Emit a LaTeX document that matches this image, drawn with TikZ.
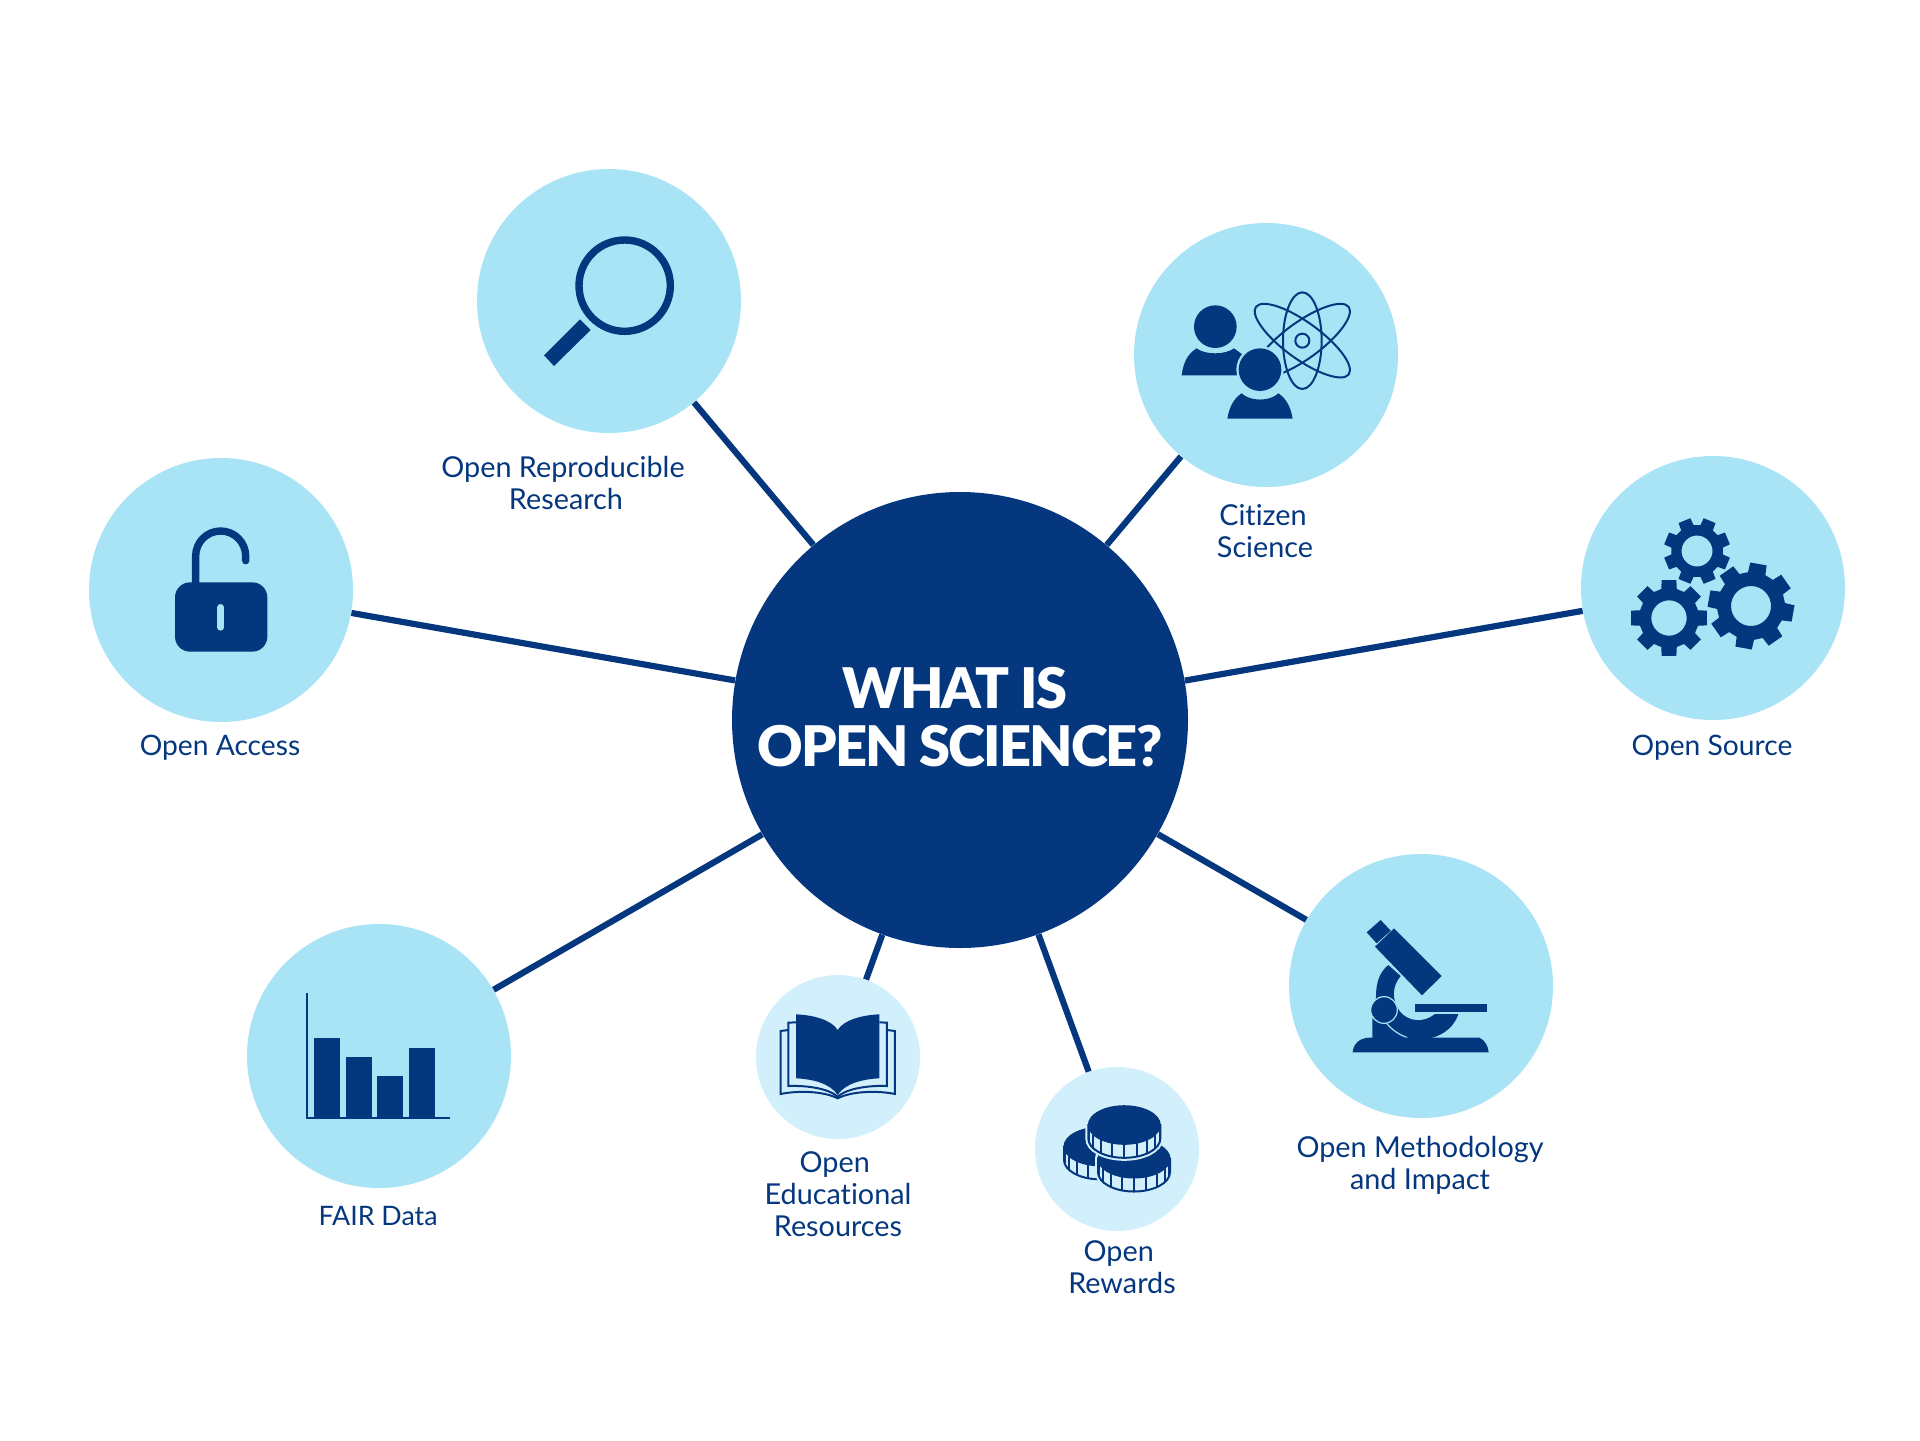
\documentclass[tikz,border=0pt]{standalone}
\usepackage{fontspec}
\setmainfont{Lato}[Ligatures=NoCommon]
\newfontfamily\titlefont{Lato Black}[LetterSpace=-3.4]
\usepackage{tikz}
\definecolor{scinavy}{HTML}{05377F}
\definecolor{scisky}{HTML}{A8E3F6}
\definecolor{scipale}{HTML}{D2F0FB}
\tikzstyle{hub} = [circle, fill=scinavy, text=white, minimum size=228pt, inner sep=0pt]
\tikzstyle{topic} = [circle, fill=scisky, minimum size=132pt, inner sep=0pt]
\tikzstyle{smalltopic} = [circle, fill=scipale, minimum size=82pt, inner sep=0pt]
\tikzstyle{caption} = [text=scinavy, align=center, font=\fontsize{14.4}{16}\selectfont, inner sep=0pt]
\tikzstyle{shortcaption} = [caption, font=\fontsize{14.1}{16}\selectfont]
\tikzstyle{line} = [draw, color=scinavy, line width=3.1pt]
\tikzstyle{icon} = [fill=scinavy]
\tikzstyle{thinicon} = [draw=scinavy, line width=1pt]
\newcommand{\gearicon}[6]{
    \fill[icon, even odd rule, shift={(#1,#2)}] (#6-15:#4)
        \foreach \a in {0,45,...,315} {
            -- (#6+\a-15:#4) -- (#6+\a-11:#3) -- (#6+\a+11:#3) -- (#6+\a+15:#4)
        } -- cycle (0,0) circle[radius=#5];
}
\newcommand{\coinicon}[2]{
    \begin{scope}[shift={(#1,#2)}]
        \draw[scipale, line width=3pt] (-36,0) -- (-36,13.5) arc[start angle=180, end angle=0, x radius=36, y radius=19.3] -- (36,0) arc[start angle=0, end angle=-180, x radius=36, y radius=19.3] -- cycle;
        \draw[thinicon, fill=scipale] (-36,0) -- (-36,13.5) arc[start angle=180, end angle=0, x radius=36, y radius=19.3] -- (36,0) -- cycle;
        \foreach \t in {10,30,...,170} {
            \draw[thinicon] (\t:36 and 19.3) -- ++(0,13.5);
        }
        \fill[icon] (0,0) ellipse[x radius=36.5, y radius=19.8];
    \end{scope}
}
\begin{document}
\begin{tikzpicture}[x=0.5pt, y=-0.5pt]
    \useasboundingbox (0,0) rectangle (1920,1440);

    \node[hub] (hub) at (960,720) {};
    \node[topic] (repro) at (609,301) {};
    \node[topic] (citizen) at (1266,355) {};
    \node[topic] (source) at (1713,588) {};
    \node[topic] (access) at (221,590) {};
    \node[topic] (fair) at (379,1056) {};
    \node[smalltopic] (edu) at (838,1057) {};
    \node[smalltopic] (rewards) at (1117,1149) {};
    \node[topic] (method) at (1421,986) {};

    \path[line] (hub) -- (repro);
    \path[line] (hub) -- (citizen);
    \path[line] (hub) -- (source);
    \path[line] (hub) -- (access);
    \path[line] (hub) -- (fair);
    \path[line] (hub) -- (edu);
    \path[line] (hub) -- (rewards);
    \path[line] (hub) -- (method);

    \node[text=white, align=center, font=\titlefont\fontsize{28}{28.7}\selectfont, inner sep=0pt] (title) at (960,717) {WHAT IS\hspace*{5pt}\\OPEN SCIENCE?};
    \node[caption] (reprotext) at (563,483) {Open Reproducible\\Research\hspace*{-3pt}};
    \node[caption] (citizentext) at (1265,531) {Citizen\hspace*{2pt}\\Science};
    \node[shortcaption] (sourcetext) at (1712,748) {Open Source};
    \node[shortcaption] (accesstext) at (220,748) {Open Access};
    \node[caption, font=\fontsize{13.4}{16}\selectfont] (fairtext) at (378,1216) {FAIR Data};
    \node[caption] (edutext) at (838,1194) {Open\hspace*{3.3pt}\\Educational\\Resources};
    \node[caption] (rewardstext) at (1122,1267) {Open\hspace*{3.3pt}\\Rewards};
    \node[caption] (methodtext) at (1420,1165) {Open Methodology\\and Impact};

    % magnifier
    \begin{scope}[shift={(520,220)}, scale=.3333]
        \draw[draw=scinavy, line width=3.7pt] (314,197) circle[radius=137];
        \fill[icon] (180,298) -- (212,330) -- (102,438) -- (72,406) -- cycle;
    \end{scope}

    % people and atom
    \begin{scope}[shift={(1130,220)}, scale=.3333]
        \draw[thinicon] (517,362) circle[radius=21];
        \draw[thinicon] (517,362) ellipse[x radius=58, y radius=145];
        \draw[thinicon, rotate around={36:(517,362)}] (517,362) ellipse[x radius=172, y radius=55];
        \draw[thinicon, rotate around={-36:(517,362)}] (517,362) ellipse[x radius=172, y radius=55];
        \fill[icon] (256,320) circle[radius=64];
        \fill[icon] (155,466) .. controls (160,425) and (175,400) .. (200,385) .. controls (225,405) and (285,405) .. (312,385) .. controls (322,392) and (330,398) .. (345,410) -- (345,466) -- cycle;
        \fill[scisky] (390,449) circle[radius=71];
        \fill[icon] (390,449) circle[radius=64];
        \fill[icon] (292,596) .. controls (298,560) and (312,535) .. (335,520) .. controls (360,545) and (420,545) .. (445,520) .. controls (468,535) and (482,560) .. (488,596) -- cycle;
    \end{scope}

    % gears
    \gearicon{1697}{551}{33.5}{26}{15.5}{22.5}
    \gearicon{1669}{618}{38.5}{30}{17.7}{0}
    \gearicon{1751}{606}{43.5}{34}{20}{10}

    % padlock
    \begin{scope}[shift={(160,520)}, scale=.3333]
        \draw[draw=scinavy, line width=3.7pt, line cap=round] (107,195) -- (107,108) arc[start angle=180, end angle=360, x radius=75, y radius=75] -- (257,122);
        \fill[icon, rounded corners=7.5pt] (45,187) rectangle (322,395);
        \draw[scisky, line width=3.3pt, line cap=round] (182,262) -- (182,322);
    \end{scope}

    % bar chart
    \begin{scope}[shift={(290,980)}, scale=.3333]
        \draw[draw=scinavy, line width=.9pt] (52,40) -- (52,413) -- (480,413);
        \fill[icon] (72,173) rectangle (150,415);
        \fill[icon] (167,232) rectangle (245,415);
        \fill[icon] (262,288) rectangle (340,415);
        \fill[icon] (356,205) rectangle (434,415);
    \end{scope}

    % book
    \begin{scope}[shift={(750,980)}, scale=.3333]
        \draw[thinicon] (138,127) -- (115,128) -- (115,318) .. controls (170,316) and (235,325) .. (263,350) .. controls (291,325) and (356,316) .. (411,318) -- (411,128) -- (388,127);
        \draw[thinicon] (115,150) -- (92,153) -- (92,342) .. controls (150,330) and (225,335) .. (263,355) .. controls (301,335) and (376,330) .. (435,342) -- (435,153) -- (411,150);
        \fill[icon] (138,103) .. controls (190,105) and (245,120) .. (263,150) .. controls (281,120) and (336,105) .. (388,103) -- (388,295) .. controls (340,297) and (285,310) .. (263,345) .. controls (241,310) and (186,297) .. (138,295) -- cycle;
    \end{scope}

    % coins
    \coinicon{1100}{1146.5}
    \coinicon{1134}{1158.7}
    \coinicon{1124.3}{1125}

    % microscope
    \begin{scope}[shift={(1320,890)}, scale=.3333]
        \fill[icon] (140,127) -- (182,90) -- (212,122) -- (170,160) -- cycle;
        \fill[icon] (222,115) -- (365,258) -- (306,316) -- (165,170) -- cycle;
        \fill[icon] (205,225) .. controls (180,245) and (168,275) .. (168,320) -- (157,390) -- (157,445) -- (330,445) .. controls (375,435) and (405,405) .. (415,372) -- (345,372) .. controls (310,400) and (265,395) .. (240,365) .. controls (215,330) and (215,290) .. (242,258) -- cycle;
        \draw[scisky, line width=.6pt, fill=scinavy] (192,360) circle[radius=40];
        \draw[scisky, line width=.6pt] (200,400) .. controls (215,420) and (240,435) .. (262,443);
        \fill[icon] (285,342) rectangle (500,367);
        \fill[icon] (98,487) .. controls (100,460) and (120,443) .. (150,443) -- (478,443) .. controls (495,450) and (505,470) .. (506,487) -- cycle;
    \end{scope}
\end{tikzpicture}
\end{document}
